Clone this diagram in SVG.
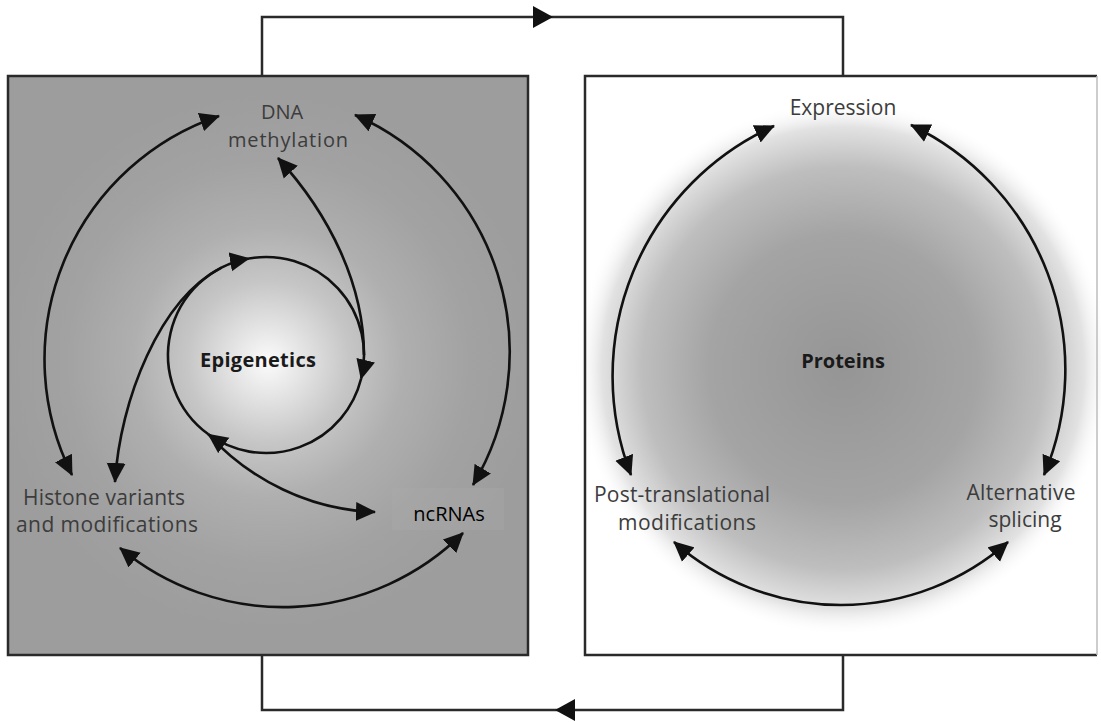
<svg xmlns="http://www.w3.org/2000/svg" width="1101" height="722" viewBox="0 0 1101 722">
<style>
.lbl{font-family:"Open Sans","Liberation Sans",sans-serif;font-size:21px;fill:#3c3c3c;text-anchor:middle}
.bold{font-family:"Open Sans","Liberation Sans",sans-serif;font-size:20px;font-weight:bold;fill:#1a1a1a;text-anchor:middle}
.nc{font-family:"Open Sans","Liberation Sans",sans-serif;font-size:20px;fill:#000;text-anchor:middle}
.arc{fill:none;stroke:#111;stroke-width:2.6}
.conn{fill:none;stroke:#2a2a2a;stroke-width:2.5}
.box{stroke:#2a2a2a;stroke-width:2.5}
</style>
<defs>
<radialGradient id="gL" gradientUnits="userSpaceOnUse" cx="268" cy="362" r="270">
<stop offset="0" stop-color="#fbfbfb"/>
<stop offset="0.12" stop-color="#e6e6e6"/>
<stop offset="0.3" stop-color="#c6c6c6"/>
<stop offset="0.5" stop-color="#afafaf"/>
<stop offset="0.75" stop-color="#a2a2a2"/>
<stop offset="1" stop-color="#9d9d9d"/>
</radialGradient>
<radialGradient id="gR" gradientUnits="userSpaceOnUse" cx="843" cy="368" r="268">
<stop offset="0" stop-color="#959595"/>
<stop offset="0.5" stop-color="#a4a4a4"/>
<stop offset="0.75" stop-color="#bebebe"/>
<stop offset="0.9" stop-color="#e2e2e2"/>
<stop offset="1" stop-color="#ffffff" stop-opacity="0"/>
</radialGradient>
<marker id="ah" viewBox="0 0 20 20" refX="19" refY="10" markerWidth="20" markerHeight="20" markerUnits="userSpaceOnUse" orient="auto-start-reverse">
<path d="M0,0.5 L20,10 L0,19.5 z" fill="#111"/>
</marker>
</defs>
<rect width="1101" height="722" fill="#fff"/>

<g id="epigenetics-box">
<rect x="8" y="76" width="520" height="579" fill="#9d9d9d"/>
<rect x="8" y="76" width="520" height="579" fill="url(#gL)" class="box"/>
</g>
<g id="proteins-box">
<rect x="585" y="76" width="512" height="579" fill="#fff"/>
<circle cx="843" cy="368" r="268" fill="url(#gR)"/>
<path d="M1097,76 H585 V655 H1097" fill="none" class="box"/>
<path d="M1097,76 V655" fill="none" stroke="#bdbdbd" stroke-width="1.5"/>
</g>

<g id="connectors">
<path class="conn" d="M262,76 V17 H843 V76"/>
<polygon points="533,6 553,17 533,28" fill="#111"/>
<path class="conn" d="M262,655 V710 H843 V655"/>
<polygon points="575,699 555,710 575,721" fill="#111"/>

<path class="arc" d="M219,116 A257 257 0 0 0 72,475" marker-start="url(#ah)" marker-end="url(#ah)"/>
<path class="arc" d="M355,115 A259 259 0 0 1 473,485" marker-start="url(#ah)" marker-end="url(#ah)"/>
<path class="arc" d="M120,548 A255 255 0 0 0 463,533" marker-start="url(#ah)" marker-end="url(#ah)"/>
<path class="arc" d="M208.4,434.3 A98 98 0 0 1 249,258.5" marker-end="url(#ah)"/>
<path class="arc" d="M249,258.5 A98 98 0 0 1 361.1,378.7" marker-end="url(#ah)"/>
<path class="arc" d="M361.1,378.7 A98 98 0 0 1 208.4,434.3" marker-end="url(#ah)"/>
<path class="arc" d="M278,158 C330,215 364,285 364,355" marker-start="url(#ah)"/>
<path class="arc" d="M115,482 C120,400 159.5,299.5 221.5,267.7" marker-start="url(#ah)"/>
<path class="arc" d="M208.4,434.3 C250,480 310,510 375,512" marker-end="url(#ah)"/>

<path class="arc" d="M774,126 A274.5 274.5 0 0 0 631,475" marker-start="url(#ah)" marker-end="url(#ah)"/>
<path class="arc" d="M911,125 A271 271 0 0 1 1044,475" marker-start="url(#ah)" marker-end="url(#ah)"/>
<path class="arc" d="M674,542 A253 253 0 0 0 1008,542" marker-start="url(#ah)" marker-end="url(#ah)"/>
</g>

<g id="dna-methylation">
<text class="lbl" style="font-size:20px"><tspan x="282" y="119">DNA</tspan><tspan x="288" y="147" textLength="120">methylation</tspan></text>
</g>
<g id="epigenetics">
<text class="bold" x="258" y="367" textLength="116">Epigenetics</text>
</g>
<g id="histone">
<text class="lbl"><tspan x="104" y="505" textLength="162">Histone variants</tspan><tspan x="107" y="532" textLength="182">and modifications</tspan></text>
</g>
<g id="ncrnas">
<rect x="392" y="488" width="112" height="42" fill="#acacac" opacity="0.3"/>
<text class="nc" x="449" y="521">ncRNAs</text>
</g>
<g id="expression">
<text class="lbl" x="843" y="115">Expression</text>
</g>
<g id="proteins">
<text class="bold" x="843" y="368">Proteins</text>
</g>
<g id="ptm">
<text class="lbl"><tspan x="682" y="502" textLength="176">Post-translational</tspan><tspan x="687" y="530" textLength="138">modifications</tspan></text>
</g>
<g id="splicing">
<text class="lbl"><tspan x="1021" y="500" textLength="109">Alternative</tspan><tspan x="1025" y="527">splicing</tspan></text>
</g>
</svg>
